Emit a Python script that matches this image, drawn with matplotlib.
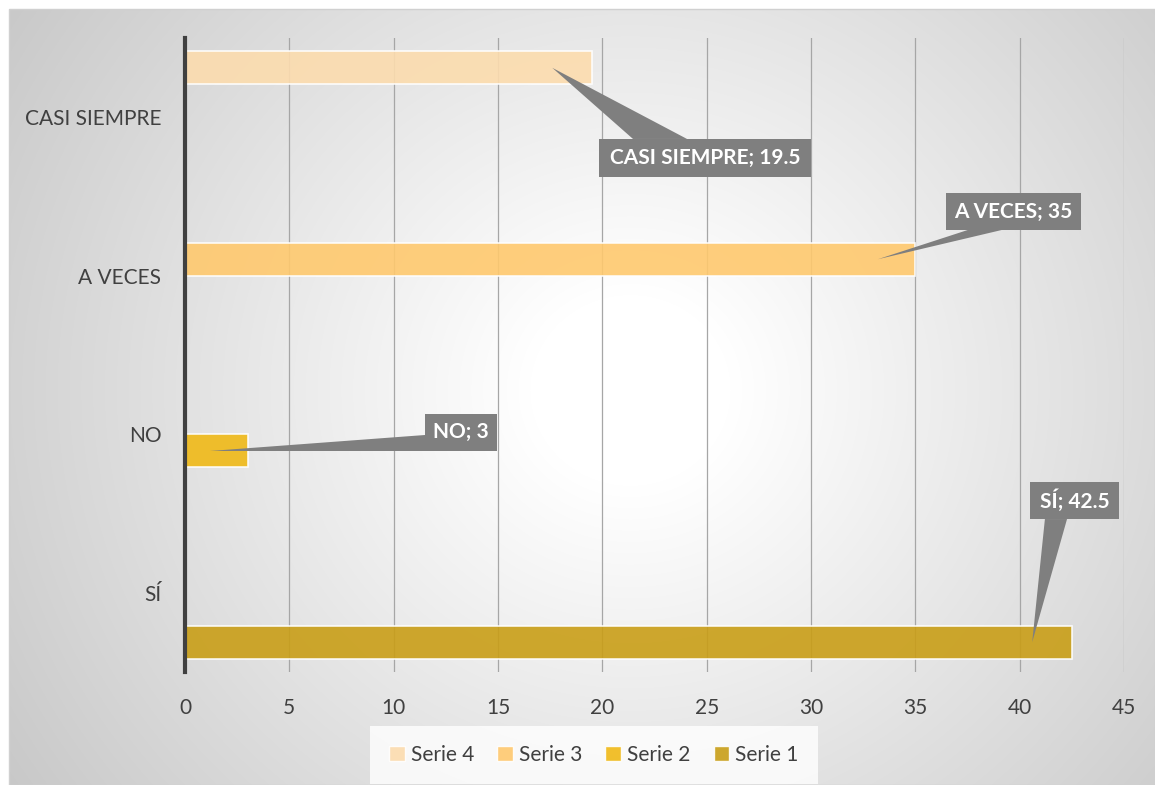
import numpy as np
import matplotlib
matplotlib.use("Agg")
import matplotlib.pyplot as plt
from matplotlib.patches import Patch, Rectangle, Polygon

plt.rcParams['font.family'] = ['Lato', 'DejaVu Sans']

# ---- data ----
categories = ["SÍ", "NO", "A VECES", "CASI SIEMPRE"]
series_names = ["Serie 1", "Serie 2", "Serie 3", "Serie 4"]
serie1 = [42.5, 0, 0, 0]
serie2 = [0, 3, 0, 0]
serie3 = [0, 0, 35, 0]
serie4 = [0, 0, 0, 19.5]
series_values = [serie1, serie2, serie3, serie4]
series_colors = ["#C99E17", "#F0B917", "#FFC96E", "#FCDCAE"]
xticks = [0, 5, 10, 15, 20, 25, 30, 35, 40, 45]

W, H = 1155, 785
fig = plt.figure(figsize=(W / 100, H / 100), dpi=100)

# ---- radial gradient background ----
bx0, by0 = 9, 9
bg = fig.add_axes([bx0 / W, 0, 1 - bx0 / W, 1 - by0 / H], zorder=-10)
gw, gh = W - bx0, H - by0
yy, xx = np.mgrid[0:gh, 0:gw]
cx, cy = 630 - bx0, 390 - by0
r = np.hypot(xx - cx, (yy - cy) * 1.05)
t = np.clip((r - 100) / 650, 0, 1)
val = (255 - 55 * t) / 255.0
img = np.dstack([val, val, val])
bg.imshow(img, aspect="auto", extent=[0, 1, 0, 1], origin="upper")
bg.set_axis_off()
fig.patches.append(Rectangle((bx0 / W, 0), 1 - bx0 / W, 1 - by0 / H,
                             transform=fig.transFigure, fill=False,
                             ec="#d0d0d0", lw=1, zorder=-9))

# ---- main axes ----
left, right, top, bottom = 185, 1124, 38, 672
ax = fig.add_axes([left / W, 1 - bottom / H, (right - left) / W, (bottom - top) / H])
ax.set_facecolor("none")
ax.set_xlim(0, 45)
ax.set_ylim(-0.5, 3.5)

y = np.arange(len(categories))
bh = 0.208
for i, (vals, col) in enumerate(zip(series_values, series_colors)):
    off = (i - 1.5) * bh
    idx = [k for k, v in enumerate(vals) if v > 0]
    ax.barh(y[idx] + off, [vals[k] for k in idx], height=bh, color=col,
            alpha=0.9, edgecolor=(1, 1, 1, 0.5), linewidth=1.2, zorder=3)

ax.set_xticks(xticks)
ax.set_yticks(y)
ax.set_yticklabels(categories)
ax.grid(axis="x", color="#a6a6a6", lw=0.9, zorder=0)
ax.tick_params(axis="both", length=0, labelsize=15, colors="#404040")
ax.tick_params(axis="x", pad=19)
ax.tick_params(axis="y", pad=17)
for s in ["top", "right", "bottom"]:
    ax.spines[s].set_visible(False)
ax.spines["left"].set_color("#404040")
ax.spines["left"].set_linewidth(3)
ax.spines["left"].set_zorder(5)

# ---- callouts (label layout in data coords) ----
# (category, series, tip x, box x0, x1, y0, y1, base point A, base point B)
callouts = [
    (3, 3, 17.6, 19.84, 30.0, 2.623, 2.863, (21.47, 2.863), (24.06, 2.863)),
    (2, 2, 33.2, 36.47, 42.94, 2.289, 2.522, (37.52, 2.289), (39.15, 2.289)),
    (1, 1, 1.2, 11.49, 14.95, 0.896, 1.128, (11.49, 0.995), (11.49, 0.896)),
    (0, 0, 40.6, 40.49, 44.76, 0.465, 0.699, (41.21, 0.465), (42.27, 0.465)),
]
grey = "#7f7f7f"
for ci, si, tipx, x0, x1, y0, y1, pa, pb in callouts:
    v = series_values[si][ci]
    tip = (tipx, y[ci] + (si - 1.5) * bh)
    ax.add_patch(Polygon([pa, pb, tip], closed=True, fc=grey, ec="none",
                         zorder=9, clip_on=False))
    ax.add_patch(Rectangle((x0, y0), x1 - x0, y1 - y0, fc=grey, ec="none",
                           zorder=9, clip_on=False))
    ax.text((x0 + x1) / 2, (y0 + y1) / 2, f"{categories[ci]}; {v:g}",
            ha="center", va="center", fontsize=15, fontweight="bold",
            color="white", zorder=10, clip_on=False)

# ---- legend ----
handles = [Patch(facecolor=series_colors[i], edgecolor=(1, 1, 1, 0.6), alpha=0.9)
           for i in [3, 2, 1, 0]]
labels = [series_names[i] for i in [3, 2, 1, 0]]
leg = fig.legend(handles, labels, loc="center", bbox_to_anchor=(594 / W, 1 - 755 / H),
                 ncol=4, frameon=True, fontsize=15, handlelength=0.75,
                 handleheight=0.75, handletextpad=0.3, columnspacing=1.1,
                 borderpad=0.6)
leg.get_frame().set_facecolor((1, 1, 1, 0.2))
leg.get_frame().set_edgecolor("none")
leg.get_frame().set_boxstyle("square")
for t_ in leg.get_texts():
    t_.set_color("#404040")

fig.savefig("out.png", dpi=100)
